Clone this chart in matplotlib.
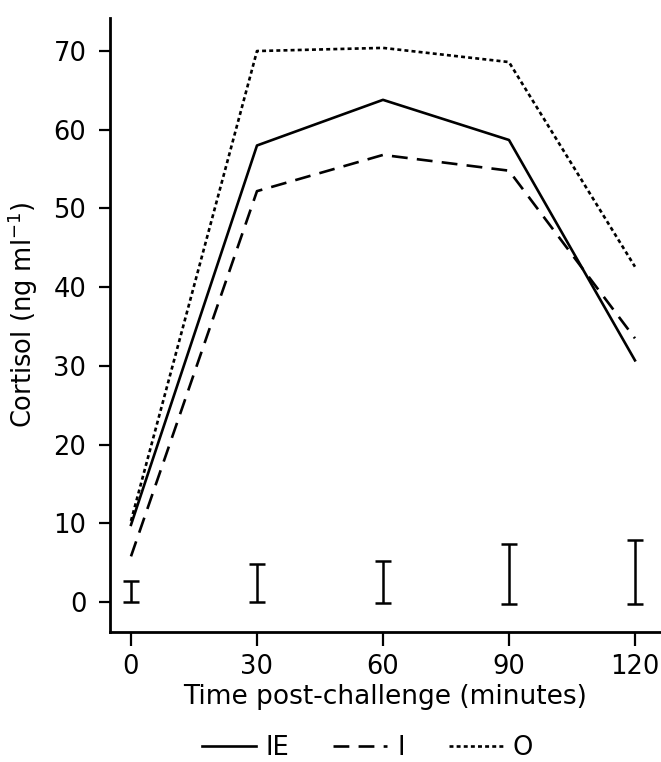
import matplotlib
matplotlib.use('Agg')
import matplotlib.pyplot as plt

# cortisol response after challenge
times = [0, 30, 60, 90, 120]
ie_vals = [9.8, 58.0, 63.8, 58.7, 30.7]
i_vals = [5.8, 52.2, 56.8, 54.8, 33.5]
o_vals = [10.3, 70.0, 70.4, 68.6, 42.6]

# error bars drawn along the bottom (low end, high end)
err_low = [0.0, 0.0, -0.1, -0.2, -0.2]
err_high = [2.7, 4.8, 5.2, 7.4, 7.9]

x_ticks = [0, 30, 60, 90, 120]
y_ticks = [0, 10, 20, 30, 40, 50, 60, 70]

plt.rcParams['font.family'] = ['DejaVu Sans']

fig = plt.figure(figsize=(6.61, 7.62), dpi=100)
ax = fig.add_axes([0.1664, 0.1706, 0.8336, 0.8058])

lw = 1.9
ax.plot(times, ie_vals, color='black', lw=lw, linestyle='-', label='IE')
ax.plot(times, i_vals, color='black', lw=lw, linestyle=(0, (6, 3.5)), label='I')
ax.plot(times, o_vals, color='black', lw=lw, linestyle=(0, (1.5, 1.2)), label='O')

yerr = [[0] * len(times), [h - l for h, l in zip(err_high, err_low)]]
ax.errorbar(times, err_low, yerr=yerr, fmt='none', ecolor='black',
            elinewidth=1.8, capsize=5.8, capthick=1.8)

ax.set_xlim(-5.0, 126.2)
ax.set_ylim(-3.81, 74.2)
ax.set_xticks(x_ticks)
ax.set_yticks(y_ticks)

for side in ['top', 'right']:
    ax.spines[side].set_visible(False)
for side in ['left', 'bottom']:
    ax.spines[side].set_linewidth(2.0)

ax.tick_params(axis='x', length=10, width=1.6, pad=6, labelsize=18.5)
ax.tick_params(axis='y', length=8, width=1.6, pad=9, labelsize=18.5)

ax.set_xlabel('Time post-challenge (minutes)', fontsize=19, labelpad=3)
ax.set_ylabel('Cortisol (ng ml$^{-1}$)', fontsize=18.5)
ax.yaxis.set_label_coords(-0.127, 0.516)

fig.legend(loc='center', bbox_to_anchor=(0.556, 0.019), ncol=3, frameon=False,
           fontsize=18.5, handlelength=2.1, handletextpad=0.4,
           columnspacing=1.7, borderpad=0)

fig.savefig('out.png', dpi=100)
